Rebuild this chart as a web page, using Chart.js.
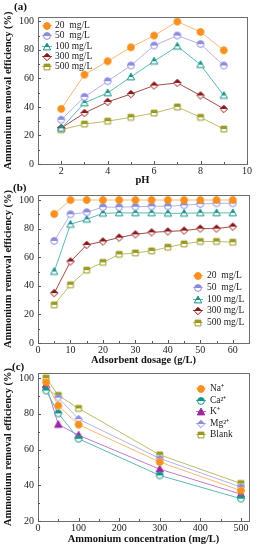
<!DOCTYPE html>
<html>
<head>
<meta charset="utf-8">
<script src="https://cdn.jsdelivr.net/npm/chart.js@4.4.1/dist/chart.umd.min.js"></script>
<style>
  body { margin: 0; background: #fff; width: 258px; height: 550px; overflow: hidden; position: relative; }
  canvas { position: absolute; left: 0; top: 0; }
</style>
</head>
<body>
<canvas id="chartA" width="258" height="550"></canvas>
<canvas id="chartB" width="258" height="550"></canvas>
<canvas id="chartC" width="258" height="550"></canvas>
<script>
// ---- data ----
const concLabels = ['20  mg/L', '50  mg/L', '100 mg/L', '300 mg/L', '500 mg/L'];

// (a) effect of pH
const phX = [2, 3, 4, 5, 6, 7, 8, 9];
const phConc20 = [38.6, 62.6, 72, 81.8, 90, 99.8, 92.5, 79.7];
const phConc50 = [31, 47, 58, 69, 83, 90, 84, 69];
const phConc100 = [25, 42.8, 49.8, 61, 72, 82.5, 69.6, 48];
const phConc300 = [25.2, 35.7, 43.5, 49, 55, 56.8, 48, 38.6];
const phConc500 = [24, 28, 30, 32.7, 35.7, 40, 32.7, 24.5];
const phTicksX = [2, 4, 6, 8, 10];

// (b) effect of adsorbent dosage
const doseX = [5, 10, 15, 20, 25, 30, 35, 40, 45, 50, 55, 60];
const doseConc20 = [90.2, 100, 100, 100, 100, 100, 100, 100, 100, 100, 100, 100];
const doseConc50 = [71.4, 90, 91.4, 95, 95, 95.3, 95.6, 95.6, 96.3, 97.2, 97.7, 97.7];
const doseConc100 = [50, 83, 86.5, 90.7, 91, 91, 91, 90.7, 90.7, 91, 91, 91];
const doseConc300 = [34.9, 57, 68.6, 71, 73.7, 76, 77.4, 78, 78.6, 80, 80, 81.4];
const doseConc500 = [26.7, 40.7, 51, 56.4, 62, 63, 64.4, 67, 69.3, 71, 71, 70.5];
const doseTicksX = [0, 10, 20, 30, 40, 50, 60];

// (c) effect of co-existing cations
const ionLabels = ['Na\u207A', 'Ca\u00B2\u207A', 'K\u207A', 'Mg\u00B2\u207A', 'Blank'];
const ionX = [20, 50, 100, 300, 500];
const ionNa = [97.6, 84.6, 73.9, 53, 37];
const ionCa = [93, 80.2, 66, 45.5, 32.5];
const ionK = [96, 74, 68, 49, 35];
const ionMg = [95, 89, 77, 55, 39];
const ionBlank = [100, 90.3, 83, 57, 41];
const ionTicksX = [0, 100, 200, 300, 400, 500];

const effTicks0 = [0, 20, 40, 60, 80, 100];
const effTicks20 = [20, 40, 60, 80, 100];

// ---- styling helpers ----
const SERIF = "'Liberation Serif', 'Times New Roman', serif";

function shapePath(g, shape, m, r) {
  g.beginPath();
  if (shape === 'circle') {
    g.arc(m, m, r, 0, Math.PI * 2);
  } else if (shape === 'triangle') {
    g.moveTo(m, m - r - 0.5);
    g.lineTo(m + r + 0.3, m + r - 0.5);
    g.lineTo(m - r - 0.3, m + r - 0.5);
    g.closePath();
  } else if (shape === 'diamond') {
    g.moveTo(m, m - r - 0.3);
    g.lineTo(m + r + 0.3, m);
    g.lineTo(m, m + r + 0.3);
    g.lineTo(m - r - 0.3, m);
    g.closePath();
  } else {
    g.rect(m - r + 0.5, m - r + 0.5, 2 * r - 1, 2 * r - 1);
  }
}

// half: top half filled, bottom half white
function marker(shape, color, half) {
  const s = 10, m = s / 2, r = 3.4;
  const c = document.createElement('canvas');
  c.width = s; c.height = s;
  const g = c.getContext('2d');
  shapePath(g, shape, m, r);
  g.fillStyle = half ? '#fff' : color;
  g.fill();
  if (half) {
    g.save();
    shapePath(g, shape, m, r);
    g.clip();
    g.fillStyle = color;
    g.fillRect(0, 0, s, m);
    g.restore();
  }
  shapePath(g, shape, m, r);
  g.strokeStyle = color;
  g.lineWidth = 1;
  g.stroke();
  return c;
}

const C_ORANGE = '#f7901e', L_ORANGE = '#f6b877';
const C_LAV = '#8c8cdc', L_LAV = '#b4b4e8';
const C_TEAL = '#17938a', L_TEAL = '#5cbab2';
const C_RED = '#8a1616', L_RED = '#a34848';
const C_OLIVE = '#9a9a22', L_OLIVE = '#bcbc6a';
const C_PURP = '#9b26a3', L_PURP = '#c27ac8';

function series(label, xs, ys, line, pt) {
  return {
    label: label,
    data: xs.map((x, i) => ({ x: x, y: ys[i] })),
    borderColor: line,
    backgroundColor: line,
    borderWidth: 1,
    pointStyle: pt,
    pointRadius: 4,
    tension: 0,
    clip: false
  };
}

// frame, inward ticks and panel tag
const framePlugin = {
  id: 'frame',
  afterDraw(chart, args, opts) {
    const { ctx, chartArea: a, scales } = chart;
    ctx.save();
    ctx.strokeStyle = '#6e6e6e';
    ctx.lineWidth = 1;
    ctx.strokeRect(Math.round(a.left) + 0.5, Math.round(a.top) + 0.5,
      Math.round(a.right - a.left), Math.round(a.bottom - a.top));
    ctx.strokeStyle = '#555';
    ctx.beginPath();
    const xs = scales.x, ys = scales.y;
    const xt = xs.ticks.map(t => t.value);
    xt.forEach((v, i) => {
      const px = Math.round(xs.getPixelForValue(v)) + 0.5;
      ctx.moveTo(px, a.bottom); ctx.lineTo(px, a.bottom - 3);
      if (i < xt.length - 1) {
        const mx = Math.round(xs.getPixelForValue((v + xt[i + 1]) / 2)) + 0.5;
        ctx.moveTo(mx, a.bottom); ctx.lineTo(mx, a.bottom - 2);
      }
    });
    const yt = ys.ticks.map(t => t.value);
    yt.forEach((v, i) => {
      const py = Math.round(ys.getPixelForValue(v)) + 0.5;
      ctx.moveTo(a.left, py); ctx.lineTo(a.left + 3, py);
      if (i < yt.length - 1) {
        const my = Math.round(ys.getPixelForValue((v + yt[i + 1]) / 2)) + 0.5;
        ctx.moveTo(a.left, my); ctx.lineTo(a.left + 2, my);
      }
    });
    ctx.stroke();
    ctx.fillStyle = '#111';
    ctx.font = 'bold 11px ' + SERIF;
    ctx.textBaseline = 'middle';
    ctx.fillText(opts.tag, opts.tagX, opts.tagY);
    ctx.restore();
  }
};

// legend drawn inside the plot area
const innerLegend = {
  id: 'innerLegend',
  afterDatasetsDraw(chart, args, opts) {
    const ctx = chart.ctx;
    ctx.save();
    ctx.font = opts.fontSize + 'px ' + SERIF;
    ctx.textBaseline = 'middle';
    chart.data.datasets.forEach((ds, i) => {
      const y = Math.round(opts.y + i * opts.step) + 0.5;
      ctx.strokeStyle = ds.borderColor;
      ctx.lineWidth = 1;
      ctx.beginPath();
      ctx.moveTo(opts.x - 5, y); ctx.lineTo(opts.x + 5, y);
      ctx.stroke();
      const img = ds.pointStyle;
      ctx.drawImage(img, Math.round(opts.x - img.width / 2), Math.round(y - img.height / 2));
      ctx.fillStyle = '#222';
      ctx.fillText(ds.label, opts.x + opts.gap, y);
    });
    ctx.restore();
  }
};

function makeOptions(cfg) {
  return {
    responsive: false,
    animation: false,
    devicePixelRatio: 1,
    layout: { padding: cfg.padding },
    plugins: {
      legend: { display: false },
      tooltip: { enabled: false },
      frame: { tag: cfg.tag, tagX: cfg.tagX, tagY: cfg.tagY },
      innerLegend: cfg.legend
    },
    scales: {
      x: {
        type: 'linear',
        min: cfg.xMin, max: cfg.xMax,
        afterBuildTicks: s => { s.ticks = cfg.xTicks.map(v => ({ value: v })); },
        afterFit: s => { s.height = cfg.xHeight; },
        grid: { display: false, drawTicks: false },
        border: { display: false },
        ticks: { padding: 2, color: '#222', font: { family: SERIF, size: 10, lineHeight: 1 } },
        title: { display: true, text: cfg.xTitle, color: '#111', padding: { top: 0, bottom: 0 },
          font: { family: SERIF, size: 10.5, weight: 'bold', lineHeight: 1.2 } }
      },
      y: {
        type: 'linear',
        min: cfg.yMin, max: cfg.yMax,
        afterBuildTicks: s => { s.ticks = cfg.yTicks.map(v => ({ value: v })); },
        afterFit: s => { s.width = cfg.yWidth; },
        grid: { display: false, drawTicks: false },
        border: { display: false },
        ticks: { padding: 4, color: '#222', font: { family: SERIF, size: 10, lineHeight: 1 } },
        title: { display: true, text: 'Ammonium removal efficiency (%)', color: '#111',
          padding: { top: 2, bottom: 0 },
          font: { family: SERIF, size: 10.5, weight: 'bold', lineHeight: 1.2 } }
      }
    }
  };
}

// ---- (a) ----
new Chart(document.getElementById('chartA'), {
  type: 'line',
  data: {
    datasets: [
      series(concLabels[0], phX, phConc20, L_ORANGE, marker('circle', C_ORANGE, false)),
      series(concLabels[1], phX, phConc50, L_LAV, marker('circle', C_LAV, true)),
      series(concLabels[2], phX, phConc100, L_TEAL, marker('triangle', C_TEAL, true)),
      series(concLabels[3], phX, phConc300, L_RED, marker('diamond', C_RED, true)),
      series(concLabels[4], phX, phConc500, L_OLIVE, marker('square', C_OLIVE, true))
    ]
  },
  options: makeOptions({
    padding: { top: 17, right: 11, left: 0, bottom: 363 },
    xMin: 1, xMax: 10, xTicks: phTicksX, xTitle: 'pH', xHeight: 23,
    yMin: 0, yMax: 103, yTicks: effTicks0, yWidth: 38,
    tag: '(a)', tagX: 14, tagY: 7,
    legend: { x: 47, y: 25, step: 10.3, gap: 8, fontSize: 9.5 }
  }),
  plugins: [framePlugin, innerLegend]
});

// ---- (b) ----
new Chart(document.getElementById('chartB'), {
  type: 'line',
  data: {
    datasets: [
      series(concLabels[0], doseX, doseConc20, L_ORANGE, marker('circle', C_ORANGE, false)),
      series(concLabels[1], doseX, doseConc50, L_LAV, marker('circle', C_LAV, true)),
      series(concLabels[2], doseX, doseConc100, L_TEAL, marker('triangle', C_TEAL, true)),
      series(concLabels[3], doseX, doseConc300, L_RED, marker('diamond', C_RED, true)),
      series(concLabels[4], doseX, doseConc500, L_OLIVE, marker('square', C_OLIVE, true))
    ]
  },
  options: makeOptions({
    padding: { top: 195, right: 9, left: 0, bottom: 183 },
    xMin: 0, xMax: 65, xTicks: doseTicksX, xTitle: 'Adsorbent dosage (g/L)', xHeight: 24,
    yMin: 0, yMax: 103.5, yTicks: effTicks0, yWidth: 38,
    tag: '(b)', tagX: 13, tagY: 188,
    legend: { x: 198, y: 275, step: 11.8, gap: 9, fontSize: 9.5 }
  }),
  plugins: [framePlugin, innerLegend]
});

// ---- (c) ----
new Chart(document.getElementById('chartC'), {
  type: 'line',
  data: {
    datasets: [
      series(ionLabels[0], ionX, ionNa, L_ORANGE, marker('circle', C_ORANGE, false)),
      series(ionLabels[1], ionX, ionCa, L_TEAL, marker('circle', C_TEAL, true)),
      series(ionLabels[2], ionX, ionK, L_PURP, marker('triangle', C_PURP, false)),
      series(ionLabels[3], ionX, ionMg, L_LAV, marker('diamond', C_LAV, true)),
      series(ionLabels[4], ionX, ionBlank, L_OLIVE, marker('square', C_OLIVE, true))
    ]
  },
  options: makeOptions({
    padding: { top: 373, right: 9, left: 0, bottom: 4 },
    xMin: 0, xMax: 520, xTicks: ionTicksX, xTitle: 'Ammonium concentration (mg/L)', xHeight: 25,
    yMin: 20, yMax: 102.8, yTicks: effTicks20, yWidth: 38,
    tag: '(c)', tagX: 12, tagY: 367,
    legend: { x: 201, y: 388, step: 11.6, gap: 9, fontSize: 9.5 }
  }),
  plugins: [framePlugin, innerLegend]
});
</script>
</body>
</html>
